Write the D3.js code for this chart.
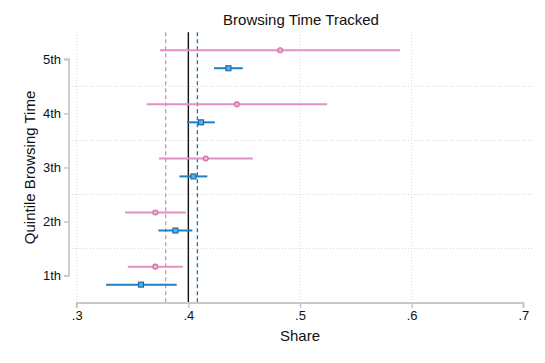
<!DOCTYPE html>
<html><head><meta charset="utf-8">
<script src="https://cdn.jsdelivr.net/npm/d3@7"></script>
<style>body{margin:0;background:#fff}svg{display:block;font-family:"Liberation Sans",Arial,Helvetica,sans-serif}</style>
</head><body><svg id="c" width="545" height="363"></svg>
<script>
const quintiles = ["1th","2th","3th","4th","5th"];
const pinkMean = [0.3704,0.3704,0.4156,0.4434,0.4822];
const pinkLo   = [0.3457,0.3433,0.3737,0.3627,0.3746];
const pinkHi   = [0.3950,0.3977,0.4577,0.5243,0.5897];
const blueMean = [0.3576,0.3884,0.4045,0.4114,0.4359];
const blueLo   = [0.3263,0.3731,0.3920,0.3988,0.4230];
const blueHi   = [0.3896,0.4036,0.4170,0.4237,0.4487];
const xTicks = [0.3,0.4,0.5,0.6,0.7];
const xGrid = [0.3,0.4,0.5,0.6];
const refLine = 0.4, pinkAvg = 0.3797, blueAvg = 0.4081;

const svg = d3.select("#c");
const x = d3.scaleLinear().domain([0.3,0.7]).range([76.7,523.3]);
const y = d3.scaleLinear().domain([0.5,5.5]).range([302.7,32.2]);
const off = 0.166;
const pink = "#e092c2", pinkDark = "#d06ea8", blue = "#1b80c4", blueDark = "#1368a8";

// gridlines
const g = svg.append("g");
g.selectAll(".hg").data([1.5,2.5,3.5,4.5]).join("line")
  .attr("x1",72).attr("x2",532).attr("y1",d=>y(d)).attr("y2",d=>y(d))
  .attr("stroke","#d4d4d4").attr("stroke-width",1).attr("stroke-dasharray","1,2");
g.selectAll(".vg").data(xGrid).join("line")
  .attr("x1",d=>x(d)).attr("x2",d=>x(d)).attr("y1",32).attr("y2",300)
  .attr("stroke","#d4d4d4").attr("stroke-width",1).attr("stroke-dasharray","1,2");

// reference lines
svg.append("line").attr("x1",x(pinkAvg)).attr("x2",x(pinkAvg)).attr("y1",32.3).attr("y2",302)
  .attr("stroke","#d98bb8").attr("stroke-width",1.3).attr("stroke-dasharray","4,3");
svg.append("line").attr("x1",x(blueAvg)).attr("x2",x(blueAvg)).attr("y1",32.3).attr("y2",302)
  .attr("stroke","#1a70b0").attr("stroke-width",1.3).attr("stroke-dasharray","4,3");
svg.append("line").attr("x1",x(refLine)).attr("x2",x(refLine)).attr("y1",32.3).attr("y2",302)
  .attr("stroke","#111").attr("stroke-width",1.4);

// axes
const xAxis = d3.axisBottom(x).tickValues(xTicks).tickSize(5).tickPadding(3)
  .tickFormat(d=>d3.format(".1f")(d).replace(/^0/,""));
const xa = svg.append("g").attr("transform","translate(0,303)").call(xAxis);
xa.select(".domain").attr("stroke","#c8c8c8").attr("stroke-width",1.8)
  .attr("d",`M${x(0.3)},5V0H${x(0.7)}V5`);
xa.selectAll(".tick line").attr("stroke","#c8c8c8").attr("stroke-width",1.5);
xa.selectAll(".tick text").attr("font-size",13).attr("fill","#111").attr("font-family","inherit");

const yAxis = d3.axisLeft(y).tickValues([1,2,3,4,5]).tickSize(5).tickPadding(3)
  .tickFormat(d=>quintiles[d-1]);
const ya = svg.append("g").attr("transform","translate(69,0)").call(yAxis);
ya.select(".domain").attr("stroke","#c8c8c8").attr("stroke-width",1.8)
  .attr("d",`M-5,${y(5)}H0V${y(1)}H-5`);
ya.selectAll(".tick line").attr("stroke","#c8c8c8").attr("stroke-width",1.5);
ya.selectAll(".tick text").attr("font-size",13).attr("fill","#111").attr("font-family","inherit");

// series
const idx = d3.range(quintiles.length);
svg.selectAll(".pci").data(idx).join("line")
  .attr("x1",i=>x(pinkLo[i])).attr("x2",i=>x(pinkHi[i]))
  .attr("y1",i=>y(i+1+off)).attr("y2",i=>y(i+1+off))
  .attr("stroke",pink).attr("stroke-width",2);
svg.selectAll(".bci").data(idx).join("line")
  .attr("x1",i=>x(blueLo[i])).attr("x2",i=>x(blueHi[i]))
  .attr("y1",i=>y(i+1-off)).attr("y2",i=>y(i+1-off))
  .attr("stroke",blue).attr("stroke-width",2);
svg.selectAll(".pm").data(idx).join("circle")
  .attr("cx",i=>x(pinkMean[i])).attr("cy",i=>y(i+1+off)).attr("r",2.5)
  .attr("fill","#eab0d2").attr("stroke",pinkDark).attr("stroke-width",1.1);
svg.selectAll(".bm").data(idx).join("rect")
  .attr("x",i=>x(blueMean[i])-2.5).attr("y",i=>y(i+1-off)-2.5).attr("width",5).attr("height",5)
  .attr("fill","#5aaee0").attr("stroke",blueDark).attr("stroke-width",1.1);

// titles
svg.append("text").attr("x",301).attr("y",25).attr("text-anchor","middle")
  .attr("font-size",15).attr("fill","#111").text("Browsing Time Tracked");
svg.append("text").attr("x",300).attr("y",341).attr("text-anchor","middle")
  .attr("font-size",15).attr("fill","#111").text("Share");
svg.append("text").attr("transform",`translate(35,${y(3)}) rotate(-90)`).attr("text-anchor","middle")
  .attr("font-size",15).attr("fill","#111").text("Quintile Browsing Time");
</script></body></html>
